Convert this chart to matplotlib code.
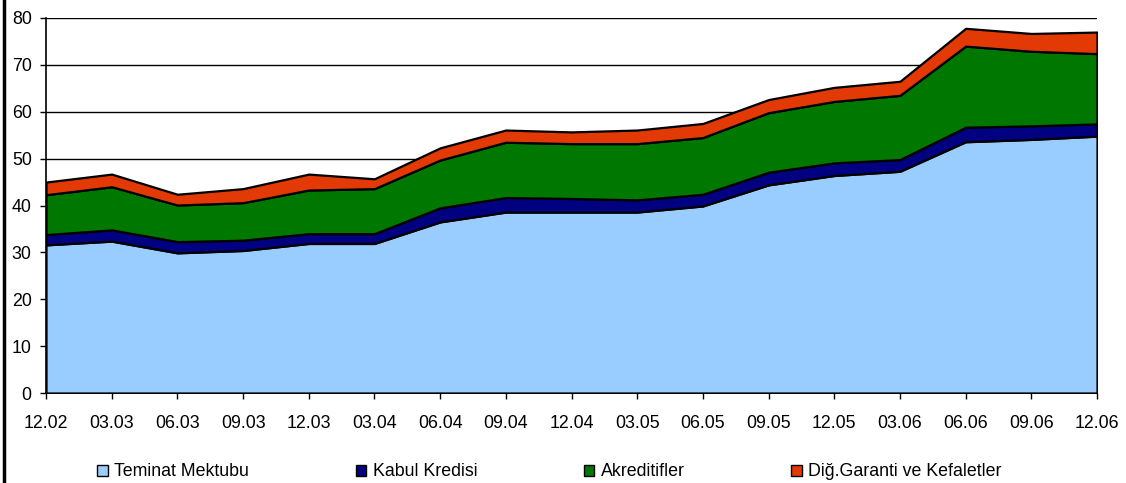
#!/usr/bin/env python3
import matplotlib
matplotlib.use("Agg")
import matplotlib.pyplot as plt
from matplotlib.patches import Patch
from matplotlib.lines import Line2D

plt.rcParams['font.family'] = ['Liberation Sans', 'DejaVu Sans']

donem = ["12.02", "03.03", "06.03", "09.03", "12.03", "03.04", "06.04", "09.04", "12.04",
         "03.05", "06.05", "09.05", "12.05", "03.06", "06.06", "09.06", "12.06"]

teminat = [31.6, 32.4, 29.9, 30.4, 31.9, 31.9, 36.5, 38.6, 38.6, 38.6, 39.9, 44.4, 46.4, 47.3, 53.6, 54.1, 54.8]
kabul   = [2.2, 2.4, 2.4, 2.2, 2.1, 2.1, 3.0, 3.1, 2.9, 2.6, 2.5, 2.7, 2.7, 2.5, 3.1, 2.9, 2.6]
akredi  = [8.5, 9.2, 7.8, 8.0, 9.3, 9.6, 10.2, 11.8, 11.7, 12.0, 12.1, 12.7, 13.1, 13.7, 17.3, 15.9, 15.0]
diger   = [2.7, 2.7, 2.3, 3.0, 3.4, 2.1, 2.6, 2.6, 2.5, 2.9, 3.0, 2.8, 3.0, 3.0, 3.8, 3.8, 4.6]

etiketler = ["Teminat Mektubu", "Kabul Kredisi", "Akreditifler", "Diğ.Garanti ve Kefaletler"]
renkler = ["#99CCFF", "#000080", "#007800", "#E33A05"]

fig = plt.figure(figsize=(11.26, 4.83), dpi=100)
ax = fig.add_axes([46/1126, 1 - 393/483, (1097 - 46)/1126, (393 - 18)/483])

x = list(range(len(donem)))
ax.stackplot(x, teminat, kabul, akredi, diger, colors=renkler,
             edgecolor="black", linewidth=1.6, zorder=3)

ax.set_xlim(0, len(donem) - 1)
ax.set_ylim(0, 80)
ax.set_yticks(range(0, 81, 10))
ax.set_xticks(x)
ax.set_xticklabels(donem)
ax.yaxis.grid(True, color="black", linewidth=1.0, zorder=0)
ax.set_axisbelow(True)
for s in ["top", "right"]:
    ax.spines[s].set_visible(False)
ax.spines["left"].set_linewidth(1.2)
ax.spines["bottom"].set_linewidth(1.2)
ax.tick_params(axis="both", direction="out", length=4.3, width=1, labelsize=12.8, colors="black")
ax.tick_params(axis="x", pad=11.5)
ax.tick_params(axis="y", pad=6)

handles = [Patch(facecolor=c, edgecolor="black", linewidth=1) for c in renkler]
fig.legend(handles, etiketler, loc="center", bbox_to_anchor=(0.488, 11/483), ncol=4,
           frameon=False, fontsize=12.8, handlelength=0.6, handleheight=0.6,
           handletextpad=0.35, columnspacing=6.0)

fig.add_artist(Line2D([3.5/1126, 3.5/1126], [0, 1], color="black", linewidth=2.5,
                      transform=fig.transFigure))

fig.savefig("out.png", dpi=100)
